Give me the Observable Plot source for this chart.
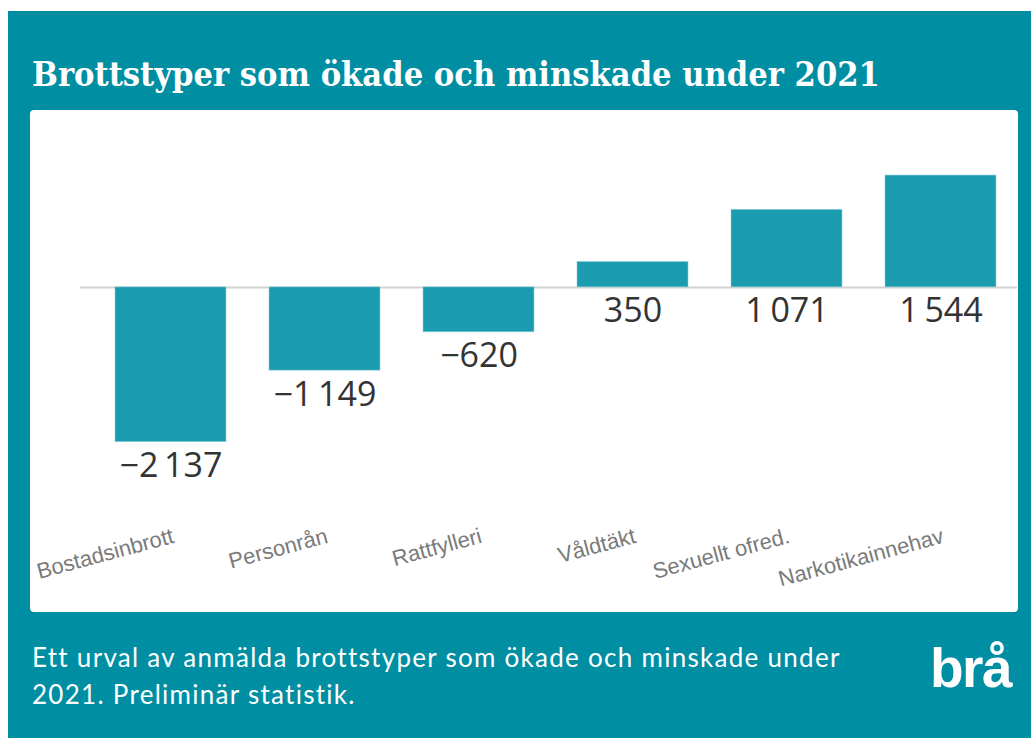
<!DOCTYPE html>
<html>
<head>
<meta charset="utf-8">
<script src="https://cdn.jsdelivr.net/npm/d3@7"></script>
<script src="https://cdn.jsdelivr.net/npm/@observablehq/plot@0.6"></script>
<style>
  html, body { margin: 0; padding: 0; background: #ffffff; width: 1031px; height: 738px; overflow: hidden; }
  #frame { position: absolute; left: 8px; top: 11px; width: 1023px; height: 727px; background: #008ea3; }
  #title { position: absolute; left: 24px; top: 45px; color: #fff; font-family: "DejaVu Serif Condensed", "DejaVu Serif", serif; font-weight: bold; font-size: 34px; line-height: 1; white-space: nowrap; }
  #panel { position: absolute; left: 22px; top: 99px; width: 988px; height: 502px; background: #fff; border-radius: 4px; overflow: hidden; }
  #caption { position: absolute; left: 24px; top: 628px; color: #fff; font-family: Lato, sans-serif; font-size: 26px; line-height: 37px; white-space: nowrap; }
  #logo { position: absolute; left: 922px; top: 630px; color: #fff; font-family: "Liberation Sans", Arial, sans-serif; font-weight: bold; font-size: 55px; letter-spacing: -1.5px; line-height: 1; }
</style>
</head>
<body>
<div id="frame">
  <div id="title">Brottstyper som ökade och minskade under 2021</div>
  <div id="panel"></div>
  <div id="caption"><span id="cap1">Ett urval av anmälda brottstyper som ökade och minskade under</span><br><span id="cap2">2021. Preliminär statistik.</span></div>
  <div id="logo">brå</div>
</div>
<script>
const categories = ["Bostadsinbrott", "Personrån", "Rattfylleri", "Våldtäkt", "Sexuellt ofred.", "Narkotikainnehav"];
const values = [-2137, -1149, -620, 350, 1071, 1544];

// fit title / caption widths to the reference
(function fitText() {
  const title = document.getElementById("title");
  const tw = title.getBoundingClientRect().width;
  const fs = Math.max(26, Math.min(40, 34 * 848 / tw));
  title.style.fontSize = fs.toFixed(1) + "px";
  title.style.top = (75 - 0.846 * fs) + "px";
  const ctx = document.createElement("canvas").getContext("2d");
  const cap = document.getElementById("caption");
  ctx.font = "26px Lato";
  const t1 = document.getElementById("cap1").textContent;
  const cw = ctx.measureText(t1).width;
  const ls = Math.max(0, Math.min(2, (808 - cw) / t1.length));
  cap.style.letterSpacing = ls.toFixed(2) + "px";
})();

const data = categories.map((c, i) => ({ category: c, value: values[i] }));
const fmt = v => (v < 0 ? "\u2212" : "") + d3.format(",")(Math.abs(v)).replace(/,/g, "\u2009");

const chart = Plot.plot({
  width: 988,
  height: 502,
  marginTop: 32,
  marginBottom: 144,
  marginLeft: 63,
  marginRight: 1,
  style: { background: "transparent", overflow: "visible" },
  x: { domain: categories, paddingInner: 0.28, paddingOuter: 0.14, axis: null },
  y: { domain: [-2500, 2000], axis: null },
  marks: [
    Plot.ruleY([0], { stroke: "#d2d2d2", strokeWidth: 2, insetLeft: -13 }),
    Plot.barY(data, { x: "category", y: "value", fill: "#1b9bae", stroke: "#8fd0da", strokeWidth: 0.6 }),
    Plot.text(data, {
      x: "category",
      y: d => Math.min(d.value, 0),
      text: d => fmt(d.value),
      dy: 24,
      fill: "#333333",
      fontSize: 34,
      fontFamily: "Open Sans, sans-serif"
    }),
    Plot.text(categories, {
      x: d => d,
      frameAnchor: "bottom",
      dy: 74,
      dx: 4,
      rotate: -15,
      textAnchor: "end",
      fill: "#7a7a7a",
      fontSize: 22,
      fontFamily: "Liberation Sans, Arial, sans-serif"
    })
  ]
});
document.getElementById("panel").appendChild(chart);
</script>
</body>
</html>
